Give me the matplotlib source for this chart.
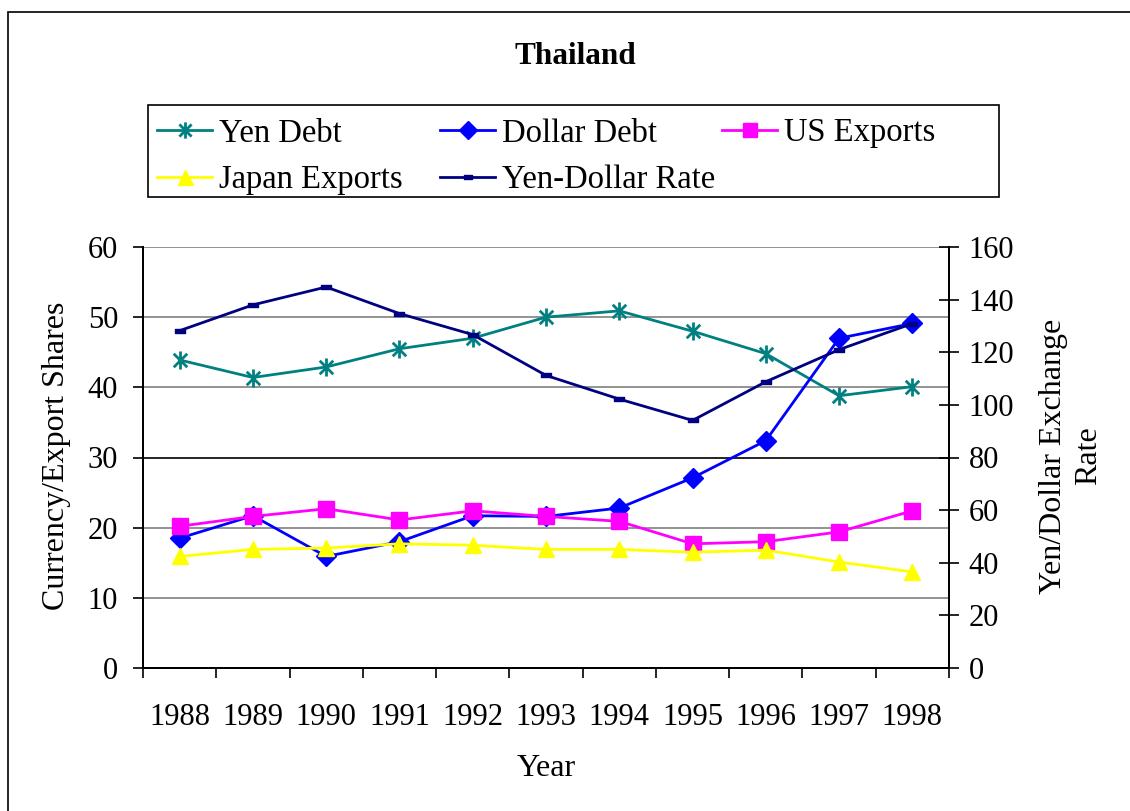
import matplotlib
matplotlib.use("Agg")
import matplotlib.pyplot as plt
from matplotlib.path import Path
from matplotlib.patches import Rectangle

# Data
years = ["1988", "1989", "1990", "1991", "1992", "1993", "1994", "1995", "1996", "1997", "1998"]
yen_debt = [43.9, 41.4, 42.9, 45.5, 47.0, 50.0, 50.9, 48.0, 44.8, 38.8, 40.1]
dollar_debt = [18.5, 21.7, 15.9, 18.0, 21.7, 21.6, 22.8, 27.1, 32.4, 47.0, 49.1]
us_exports = [20.2, 21.6, 22.7, 21.1, 22.4, 21.6, 20.9, 17.7, 18.0, 19.4, 22.4]
japan_exports = [15.9, 16.9, 17.1, 17.7, 17.5, 16.9, 16.9, 16.5, 16.8, 15.1, 13.7]
yen_dollar_rate = [128.2, 138.0, 144.8, 134.7, 126.7, 111.2, 102.2, 94.1, 108.8, 121.0, 130.9]

left_ticks = [0, 10, 20, 30, 40, 50, 60]
right_ticks = [0, 20, 40, 60, 80, 100, 120, 140, 160]

plt.rcParams["font.family"] = ["Liberation Serif", "DejaVu Serif"]
FS = 22
LEG_FS = 23.5

# Excel-style asterisk: vertical bar plus an X
asterisk = Path(
    [(0, -1), (0, 1), (-0.75, -0.75), (0.75, 0.75), (-0.75, 0.75), (0.75, -0.75)],
    [Path.MOVETO, Path.LINETO, Path.MOVETO, Path.LINETO, Path.MOVETO, Path.LINETO],
)
dash = Path(
    [(-1, -0.5), (1, -0.5), (1, 0.5), (-1, 0.5), (-1, -0.5)],
    [Path.MOVETO, Path.LINETO, Path.LINETO, Path.LINETO, Path.CLOSEPOLY],
)

W, H = 1130, 811
fig = plt.figure(figsize=(W / 100, H / 100), dpi=100)
fig.patches.append(Rectangle((8 / W, -0.1), 1.2, 1 - 12 / H + 0.1, transform=fig.transFigure,
                             fill=False, edgecolor="black", lw=1.2))

ax = fig.add_axes([143 / W, 1 - 668 / H, (949 - 143) / W, (668 - 247) / H])
ax2 = ax.twinx()

x = list(range(len(years)))
lw = 2.0
l1, = ax.plot(x, yen_debt, color="#008080", lw=lw, marker=asterisk, markersize=13,
              markeredgewidth=2, label="Yen Debt")
l2, = ax.plot(x, dollar_debt, color="#0000FF", lw=lw, marker="D", markersize=10,
              label="Dollar Debt")
l3, = ax.plot(x, us_exports, color="#FF00FF", lw=lw, marker="s", markersize=11,
              label="US Exports")
l4, = ax.plot(x, japan_exports, color="#FFFF00", lw=lw, marker="^", markersize=12,
              label="Japan Exports")
l5, = ax2.plot(x, yen_dollar_rate, color="#000080", lw=lw, marker=dash, markersize=7,
               label="Yen-Dollar Rate")

ax.set_xlim(-0.5, len(years) - 0.5)
ax.set_ylim(0, 60)
ax2.set_ylim(0, 160)

for v in left_ticks[1:]:
    ax.axhline(v, color="black" if v == 30 else "#808080", lw=1.2, zorder=0)

ax.set_yticks(left_ticks)
ax2.set_yticks(right_ticks)
ax.set_xticks([i - 0.5 for i in range(len(years) + 1)])
ax.set_xticklabels([])
ax.set_xticks(x, minor=True)
ax.set_xticklabels(years, minor=True, fontsize=FS)

ax.tick_params(axis="x", which="major", direction="out", length=7, width=1.2)
ax.tick_params(axis="x", which="minor", length=0, pad=25)
ax.tick_params(axis="y", direction="out", length=7, width=1.2, pad=11, labelsize=FS)
ax2.tick_params(axis="y", direction="inout", length=14, width=1.2, pad=7, labelsize=FS)

for a in (ax, ax2):
    a.spines["top"].set_visible(False)
    for s in ("left", "right", "bottom"):
        a.spines[s].set_linewidth(1.4)

fig.text(575 / W, 1 - 56 / H, "Thailand", fontsize=22.5, fontweight="bold", ha="center", va="center")
fig.text(546 / W, 1 - 768 / H, "Year", fontsize=23, ha="center", va="center")
fig.text(57 / W, 1 - 456 / H, "Currency/Export Shares", fontsize=23, rotation=90,
         ha="center", va="center")
fig.text(1071 / W, 1 - 456 / H, "Yen/Dollar Exchange\nRate", fontsize=23, rotation=90,
         ha="center", va="center", multialignment="center", linespacing=1.25)

# legend box with three fixed-position columns, read row by row like Excel
fig.patches.append(Rectangle((148 / W, 1 - 197 / H), (999 - 148) / W, 92 / H,
                             transform=fig.transFigure, fill=False, edgecolor="black", lw=1.2))
columns = [([l1, l4], 157), ([l2, l5], 440), ([l3], 722)]
for handles, xpos in columns:
    fig.legend(handles, [h.get_label() for h in handles], loc="upper left",
               bbox_to_anchor=(xpos / W, 1 - 118 / H), bbox_transform=fig.transFigure,
               fontsize=LEG_FS, frameon=False, handlelength=1.7, handletextpad=0.2,
               borderpad=0, borderaxespad=0, labelspacing=0.5, markerscale=0.9)

fig.savefig("out.png", dpi=100)
